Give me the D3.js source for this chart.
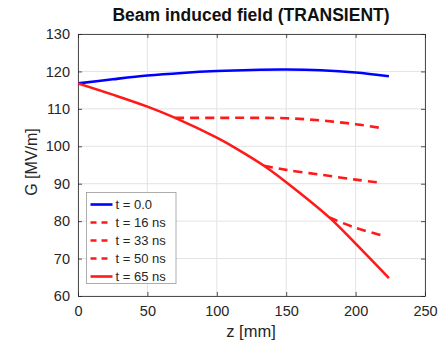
<!DOCTYPE html>
<html><head><meta charset="utf-8">
<script src="https://cdn.jsdelivr.net/npm/d3@7"></script>
<style>body{margin:0;background:#fff;} svg{display:block;font-family:"Liberation Sans",Arial,Helvetica,sans-serif;}</style>
</head><body>
<script>
const title = "Beam induced field (TRANSIENT)";
const xTicks = [0, 50, 100, 150, 200, 250];
const yTicks = [60, 70, 80, 90, 100, 110, 120, 130];
const seriesNames = ["t = 0.0", "t = 16 ns", "t = 33 ns", "t = 50 ns", "t = 65 ns"];
const seriesColors = ["#0000ff", "#ff1a1a", "#ff1a1a", "#ff1a1a", "#ff1a1a"];
const seriesDashed = [false, true, true, true, false];
const zT0 = [0, 25, 50, 75, 100, 125, 150, 175, 200, 224];
const gT0 = [116.8, 117.9, 118.9, 119.6, 120.1, 120.4, 120.5, 120.3, 119.7, 118.7];
const zT16 = [70, 100, 125, 150, 175, 200, 220];
const gT16 = [107.6, 107.6, 107.6, 107.5, 106.9, 105.9, 104.8];
const zT33 = [134, 150, 175, 200, 219];
const gT33 = [94.8, 93.7, 92.4, 91.1, 90.2];
const zT50 = [181, 200, 219];
const gT50 = [81.0, 78.2, 76.2];
const zT65 = [0, 25, 50, 70, 100, 115, 134, 150, 181, 200, 224];
const gT65 = [116.8, 113.8, 110.6, 107.6, 102.3, 99.2, 94.8, 90.4, 81.0, 74.0, 64.8];

const W = 446, H = 347;
const m = {l: 78, r: 21, t: 34, b: 51};
const svg = d3.select("body").append("svg").attr("width", W).attr("height", H);
const x = d3.scaleLinear().domain([0, 250]).range([m.l, W - m.r]);
const y = d3.scaleLinear().domain([60, 130]).range([H - m.b, m.t]);
const axisColor = "#262626";

// grid
const g = svg.append("g");
g.selectAll(".gx").data(xTicks).join("line")
  .attr("x1", d => x(d)).attr("x2", d => x(d)).attr("y1", y(60)).attr("y2", y(130))
  .attr("stroke", "#e3e3e3").attr("stroke-width", 1);
g.selectAll(".gy").data(yTicks).join("line")
  .attr("y1", d => y(d)).attr("y2", d => y(d)).attr("x1", x(0)).attr("x2", x(250))
  .attr("stroke", "#e3e3e3").attr("stroke-width", 1);

// axes
const xa = svg.append("g").attr("transform", `translate(0,${y(60)})`)
  .call(d3.axisBottom(x).tickValues(xTicks).tickSizeInner(-4).tickSizeOuter(0).tickPadding(10));
const ya = svg.append("g").attr("transform", `translate(${x(0)},0)`)
  .call(d3.axisLeft(y).tickValues(yTicks).tickSizeInner(-4).tickSizeOuter(0).tickPadding(8));
const xa2 = svg.append("g").attr("transform", `translate(0,${y(130)})`)
  .call(d3.axisTop(x).tickValues(xTicks).tickSizeInner(-4).tickSizeOuter(0).tickFormat(""));
const ya2 = svg.append("g").attr("transform", `translate(${x(250)},0)`)
  .call(d3.axisRight(y).tickValues(yTicks).tickSizeInner(-4).tickSizeOuter(0).tickFormat(""));
[xa, ya, xa2, ya2].forEach(a => {
  a.selectAll("path").attr("stroke", axisColor).attr("stroke-width", 0.8);
  a.selectAll("line").attr("stroke", axisColor).attr("stroke-width", 0.8);
  a.selectAll("text").attr("fill", axisColor).style("font-size", "14.5px").attr("font-family", "Liberation Sans, Arial, sans-serif");
});

// lines
const series = [[zT0, gT0], [zT16, gT16], [zT33, gT33], [zT50, gT50], [zT65, gT65]];
const line = d3.line().x(d => x(d[0])).y(d => y(d[1])).curve(d3.curveCatmullRom.alpha(0.5));
svg.append("clipPath").attr("id", "c").append("rect")
  .attr("x", x(0)).attr("y", y(130)).attr("width", x(250) - x(0)).attr("height", y(60) - y(130));
const lg = svg.append("g").attr("clip-path", "url(#c)");
[1, 2, 3, 0, 4].forEach(i => {
  const [zs, gs] = series[i];
  const pts = zs.map((z, k) => [z, gs[k]]);
  lg.append("path").attr("d", line(pts)).attr("fill", "none")
    .attr("stroke", seriesColors[i]).attr("stroke-width", 2.6)
    .attr("stroke-dasharray", seriesDashed[i] ? "9,6" : null);
});

// title
svg.append("text").attr("x", 251).attr("y", 20.5).attr("text-anchor", "middle")
  .style("font-size", "17.5px").style("font-weight", "bold").attr("fill", "#111").text(title);
// axis labels
svg.append("text").attr("x", 251).attr("y", 336.5).attr("text-anchor", "middle")
  .style("font-size", "16.5px").attr("fill", axisColor).text("z [mm]");
svg.append("text").attr("transform", `translate(37,162) rotate(-90)`)
  .attr("text-anchor", "middle").style("font-size", "16px").attr("fill", axisColor).text("G [MV/m]");

// legend
const L = svg.append("g").attr("transform", "translate(86.5,192.5)");
L.append("rect").attr("width", 89.5).attr("height", 91).attr("fill", "#fff")
  .attr("stroke", "#9a9a9a").attr("stroke-width", 0.8);
seriesNames.forEach((n, i) => {
  const yy = 12 + i * 18;
  L.append("line").attr("x1", 4).attr("x2", 26).attr("y1", yy).attr("y2", yy)
    .attr("stroke", seriesColors[i]).attr("stroke-width", 2.6)
    .attr("stroke-dasharray", seriesDashed[i] ? "6,5" : null);
  L.append("text").attr("x", 29).attr("y", yy + 4.5).style("font-size", "13px")
    .attr("fill", axisColor).text(n);
});
</script>
</body></html>
